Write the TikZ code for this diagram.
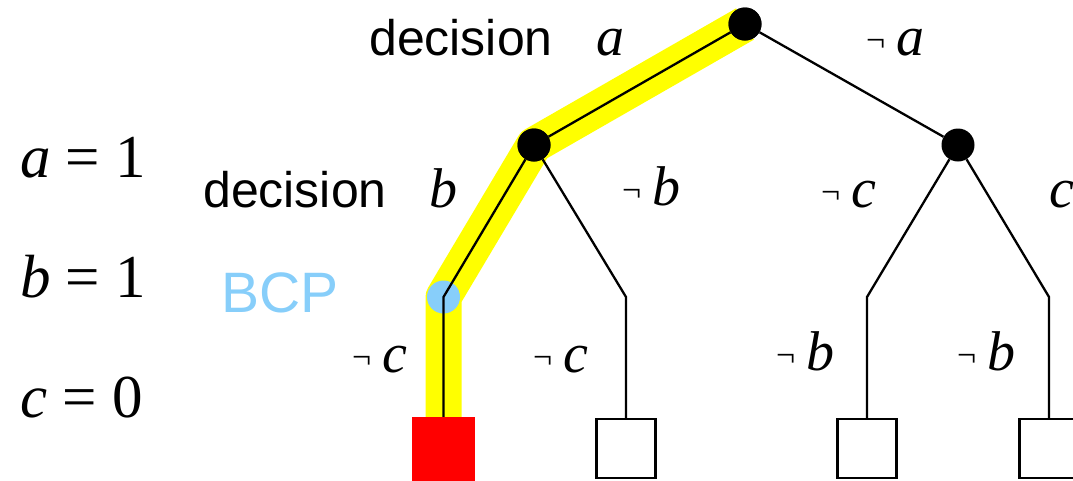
\documentclass[tikz,border=0pt]{standalone}
\usepackage{fontspec}
\setmainfont{Liberation Serif}
\newfontfamily\dsans{Liberation Sans}
\usetikzlibrary{backgrounds}
\definecolor{bcpblue}{RGB}{135,206,250}
\definecolor{hiyellow}{RGB}{255,255,0}
\newcommand{\nsym}{\raisebox{4pt}{\fontsize{34}{34}\selectfont ¬}}
\newcommand{\nlit}[1]{\nsym\hspace{11pt}\textit{#1}}
\begin{document}
\begin{tikzpicture}[x=1pt,y=-1pt,
  dec/.style={circle,fill=black,inner sep=0pt,minimum size=33pt},
  leafbox/.style={draw=black,line width=2.5pt,fill=white,inner sep=0pt,minimum size=59pt},
  edge/.style={draw=black,line width=2.3pt},
  word/.style={anchor=base west,inner sep=0pt,font=\dsans\fontsize{50}{52}\selectfont},
  lit/.style={anchor=base west,inner sep=0pt,font=\fontsize{56}{58}\selectfont},
  eq/.style={anchor=base west,inner sep=0pt,font=\fontsize{61}{63}\selectfont},
  hilite/.style={draw=hiyellow,line width=36pt,line join=round}]
\useasboundingbox (0,0) rectangle (1073,480);
% tree nodes
\node[dec] (root) at (745,24) {};
\node[dec] (nb) at (534,145) {};
\node[dec] (nc) at (958,145) {};
\node[circle,fill=bcpblue,inner sep=0pt,minimum size=33pt] (bcp) at (443.5,297) {};
\coordinate (k2) at (626,297);
\coordinate (k3) at (867,297);
\coordinate (k4) at (1049,297);
\node[fill=red,inner sep=0pt,minimum width=63pt,minimum height=64pt] (l1) at (443.5,449) {};
\node[leafbox] (l2) at (626,448.5) {};
\node[leafbox] (l3) at (867,448.5) {};
\node[leafbox] (l4) at (1049,448.5) {};
% highlighted path
\begin{scope}[on background layer]
\draw[hilite] (root.center) -- (nb.center) -- (bcp.center) -- (l1.north);
\end{scope}
% edges
\draw[edge] (root) -- (nb);
\draw[edge] (root) -- (nc);
\draw[edge] (nb) -- (bcp.center) -- (l1.north);
\draw[edge] (nb) -- (k2) -- (l2.north);
\draw[edge] (nc) -- (k3) -- (l3.north);
\draw[edge] (nc) -- (k4) -- (l4.north);
\node[dec] at (root) {};
\node[dec] at (nb) {};
% labels
\node[word] (decA) at (369,55) {decision};
\node[lit] (la) at (596,55) {\textit{a}};
\node[lit] (lna) at (866,55) {\nlit{a}};
\node[word] (decB) at (203,207) {decision};
\node[lit] (lb) at (429,207) {\textit{b}};
\node[lit] (lnb) at (622,205) {\nlit{b}};
\node[lit] (lnc) at (821,207) {\nlit{c}};
\node[lit] (lc) at (1049,207) {\textit{c}};
\node[anchor=base west,inner sep=0pt,text=bcpblue,font=\dsans\fontsize{57}{59}\selectfont] (bcplab) at (221,312) {BCP};
\node[lit] (lnc2) at (352,372) {\nlit{c}};
\node[lit] (lnc3) at (533,372) {\nlit{c}};
\node[lit] (lnb2) at (776,370) {\nlit{b}};
\node[lit] (lnb3) at (957,370) {\nlit{b}};
\node[eq] (eqa) at (20,177) {\textit{a} = 1};
\node[eq] (eqb) at (20,297) {\textit{b} = 1};
\node[eq] (eqc) at (20,417) {\textit{c} = 0};
\end{tikzpicture}
\end{document}
